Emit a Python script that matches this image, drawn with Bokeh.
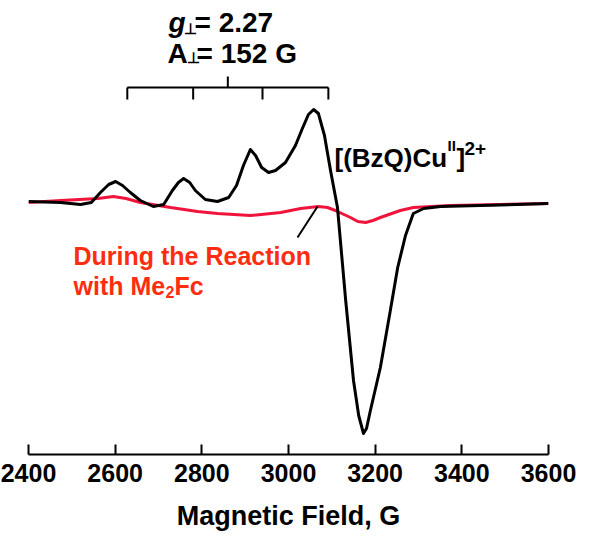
from bokeh.plotting import figure
from bokeh.models import Label, Range1d, FixedTicker
from bokeh.embed import file_html
from bokeh.resources import INLINE

# ---- data ----
field_black = [2400, 2474, 2520, 2545, 2566, 2585, 2601, 2617, 2635, 2658, 2688, 2712, 2732,
               2746, 2758, 2772, 2785, 2808, 2836, 2862, 2880, 2896, 2912, 2924, 2938, 2954,
               2970, 2993, 3016, 3032, 3046, 3058, 3069, 3083, 3097, 3113, 3132, 3150, 3162,
               3173, 3180, 3189, 3212, 3235, 3252, 3270, 3288, 3312, 3351, 3443, 3600]
intensity_black = [2, 1, -1, 1, 11, 19, 22, 18, 11, 3, -3, -1, 13,
                   21, 25, 21, 13, 4, 2, 6, 18, 38, 54, 48, 36, 31,
                   33, 41, 58, 75, 89, 94, 90, 68, 33, -4, -97, -177, -212,
                   -230, -225, -207, -164, -107, -64, -32, -10, -5, -3, -2, 0]

field_red = [2400, 2474, 2560, 2596, 2625, 2658, 2728, 2790, 2836, 2912, 2982, 3028, 3069,
             3090, 3108, 3143, 3160, 3178, 3195, 3212, 3258, 3288, 3374, 3489, 3600]
intensity_red = [1, 3, 5, 7, 5, 1, -4, -8, -10, -12, -9, -5, -3,
                 -4, -7, -14, -18, -19, -17, -14, -7, -4, -2, -1, 0]

x_ticks = [2400, 2600, 2800, 3000, 3200, 3400, 3600]
hyperfine_lines = [2628, 2780, 2940, 3092]
hyperfine_center = 2860

FONT = "Liberation Sans"
X0, X1 = 2400, 3600
Y0, Y1 = -251, 195
FRAME_W, FRAME_LEFT = 520, 28


def gx(px):
    """page pixel -> field (for annotation placement only)"""
    return X0 + (px - FRAME_LEFT) * (X1 - X0) / FRAME_W


def iy(py):
    return 203 - py


p = figure(width=594, height=550, output_backend="svg", toolbar_location=None,
           x_range=Range1d(X0, X1), y_range=Range1d(Y0, Y1),
           y_axis_location=None,
           min_border_left=28, min_border_right=46, min_border_top=8, min_border_bottom=96)
p.outline_line_color = None
p.grid.visible = False
p.background_fill_color = "white"
p.border_fill_color = "white"

ax = p.xaxis[0]
ax.ticker = FixedTicker(ticks=x_ticks, minor_ticks=[])
ax.major_tick_in = 10
ax.major_tick_out = 0
ax.minor_tick_in = 0
ax.minor_tick_out = 0
ax.axis_line_width = 2
ax.major_tick_line_width = 2
ax.major_label_text_font = FONT
ax.major_label_text_font_style = "bold"
ax.major_label_text_font_size = "25px"
ax.major_label_text_color = "black"
ax.major_label_standoff = 9
ax.axis_label = "Magnetic Field, G"
ax.axis_label_text_font = FONT
ax.axis_label_text_font_style = "bold"
ax.axis_label_text_font_size = "27px"
ax.axis_label_text_color = "black"
ax.axis_label_standoff = 16

# spectra
p.line(field_red, intensity_red, line_color="#f0143c", line_width=3)
p.line(field_black, intensity_black, line_color="black", line_width=3, line_join="round")

# hyperfine bracket
p.segment(x0=[hyperfine_lines[0]], y0=[iy(87)], x1=[hyperfine_lines[-1]], y1=[iy(87)],
          line_color="black", line_width=2)
p.segment(x0=hyperfine_lines, y0=[iy(87)] * 4, x1=hyperfine_lines, y1=[iy(99)] * 4,
          line_color="black", line_width=2)
p.segment(x0=[hyperfine_center], y0=[iy(87)], x1=[hyperfine_center], y1=[iy(76)],
          line_color="black", line_width=2)

# leader line
p.segment(x0=[gx(297)], y0=[iy(237)], x1=[gx(317)], y1=[iy(206)],
          line_color="black", line_width=2)

LABEL_SHIFT = 9  # compensates label placement offset


def lab(text, px, py, size="26px", style="bold", color="black"):
    p.add_layout(Label(x=gx(px), y=iy(py - LABEL_SHIFT), text=text, text_font=FONT,
                       text_font_style=style, text_font_size=size,
                       text_color=color, text_baseline="alphabetic", text_align="left"))


# g-perp / A-perp
lab("g", 168, 31, size="28px", style="bold italic")
lab("\u22a5", 183, 37, size="15px")
lab("= 2.27", 194, 31, size="28px")
lab("A", 167, 62, size="28px")
lab("\u22a5", 186, 66, size="15px")
lab("= 152 G", 196, 62, size="28px")

# complex label
lab("[(BzQ)Cu", 334, 166)
lab("II", 447, 154, size="15px")
lab("]", 456, 166)
lab("2+", 464, 157, size="19px")

# red label
RED = "#ff2d0f"
lab("During the Reaction", 73, 264, size="25px", color=RED)
lab("with Me", 73, 294, size="25px", color=RED)
lab("2", 165, 300, size="16px", color=RED)
lab("Fc", 174, 294, size="25px", color=RED)

open("out.html", "w").write(file_html(p, INLINE))
